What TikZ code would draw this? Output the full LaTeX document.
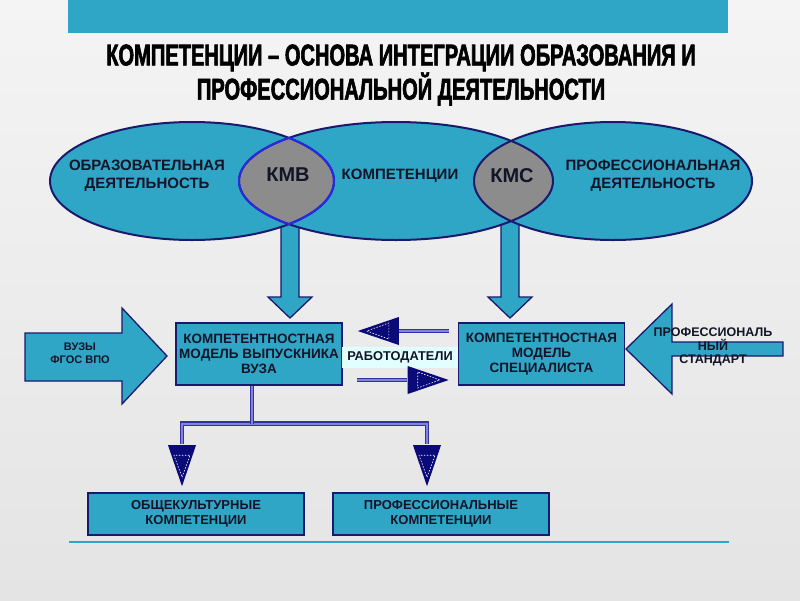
\documentclass[tikz,border=0pt]{standalone}
\usepackage{fontspec}
\setmainfont{Liberation Sans}
\newfontfamily\titlefont{Liberation Sans}[FakeStretch=0.67,FakeBold=2]
\usetikzlibrary{calc}

\definecolor{panelblue}{RGB}{48,166,198}
\definecolor{boxnavy}{RGB}{25,25,110}
\definecolor{lensblue}{RGB}{40,40,230}
\definecolor{lensgrey}{RGB}{140,140,140}
\definecolor{headnavy}{RGB}{10,10,120}
\definecolor{linenavy}{RGB}{50,50,160}
\definecolor{linefill}{RGB}{130,130,215}
\definecolor{textdark}{RGB}{20,20,40}
\definecolor{labelbg}{RGB}{225,255,255}
\definecolor{bgtop}{RGB}{244,244,244}
\definecolor{bgbottom}{RGB}{228,228,228}

\begin{document}
\begin{tikzpicture}[x=1pt,y=-1pt,
  modelbox/.style={draw=boxnavy,line width=1.6pt,fill=panelblue,minimum width=166pt,minimum height=62pt,
    align=center,inner sep=0pt,text=textdark,font=\fontsize{13.5pt}{15pt}\selectfont\bfseries},
  kindbox/.style={modelbox,minimum width=216pt,minimum height=42pt,font=\fontsize{13pt}{15pt}\selectfont\bfseries},
  ovaltext/.style={align=center,inner sep=0pt,text=textdark,font=\fontsize{15pt}{18pt}\selectfont\bfseries},
  lenstext/.style={inner sep=0pt,text=textdark,font=\fontsize{20pt}{22pt}\selectfont\bfseries},
  blockarrow/.style={draw=boxnavy,line width=1.3pt,fill=panelblue,line join=miter},
  dline/.style={draw=linenavy,double=linefill,double distance=2.4pt,line width=1.2pt},
  navyhead/.pic={
    \fill[headnavy] (0,0) -- (-41,-14) -- (-41,14) -- cycle;
    \draw[white,line width=0.6pt,dash pattern=on 1.5pt off 1.5pt] (-9,0) -- (-31,-8) -- (-31,8) -- cycle;}]
  \useasboundingbox (0,0) rectangle (800,600);
  \shade[top color=bgtop,bottom color=bgbottom] (0,0) rectangle (800,600);
  \fill[panelblue] (68,0) rectangle (728,33);
  \draw[panelblue,line width=2.5pt] (69,542) -- (729,542);

  \node[align=center,inner sep=0pt,font=\titlefont\fontsize{30pt}{27pt}\selectfont\bfseries] (title) at (401,75)
    {КОМПЕТЕНЦИИ – ОСНОВА ИНТЕГРАЦИИ ОБРАЗОВАНИЯ И\\ПРОФЕССИОНАЛЬНОЙ ДЕЯТЕЛЬНОСТИ};

  \draw[blockarrow] (281,215) -- (299,215) -- (299,297) -- (312,297) -- (290,318) -- (268,297) -- (281,297) -- cycle;
  \draw[blockarrow] (501,215) -- (519,215) -- (519,297) -- (532,297) -- (510,318) -- (488,297) -- (501,297) -- cycle;

  \fill[panelblue] (192,181) ellipse [x radius=142,y radius=59];
  \fill[panelblue] (396,181) ellipse [x radius=157,y radius=59];
  \fill[panelblue] (613,181) ellipse [x radius=139,y radius=59];
  \begin{scope}
    \clip (192,181) ellipse [x radius=142,y radius=59];
    \fill[lensgrey] (396,181) ellipse [x radius=157,y radius=59];
  \end{scope}
  \begin{scope}
    \clip (613,181) ellipse [x radius=139,y radius=59];
    \fill[lensgrey] (396,181) ellipse [x radius=157,y radius=59];
  \end{scope}
  \draw[boxnavy,line width=2pt] (192,181) ellipse [x radius=142,y radius=59];
  \draw[boxnavy,line width=2pt] (396,181) ellipse [x radius=157,y radius=59];
  \draw[boxnavy,line width=2pt] (613,181) ellipse [x radius=139,y radius=59];
  \begin{scope}
    \clip (192,181) ellipse [x radius=143,y radius=60];
    \draw[lensblue,line width=2pt] (396,181) ellipse [x radius=157,y radius=59];
  \end{scope}
  \begin{scope}
    \clip (396,181) ellipse [x radius=158,y radius=60];
    \draw[lensblue,line width=2pt] (192,181) ellipse [x radius=142,y radius=59];
  \end{scope}

  \node[ovaltext] (edu) at (147,176) {ОБРАЗОВАТЕЛЬНАЯ\\ДЕЯТЕЛЬНОСТЬ};
  \node[lenstext] (kmv) at (288,175) {КМВ};
  \node[ovaltext] (comp) at (400,176) {КОМПЕТЕНЦИИ};
  \node[lenstext] (kms) at (512,176) {КМС};
  \node[ovaltext] (prof) at (653,176) {ПРОФЕССИОНАЛЬНАЯ\\ДЕЯТЕЛЬНОСТЬ};

  \draw[blockarrow] (25,333) -- (122,333) -- (122,308) -- (167,356) -- (122,404) -- (122,381) -- (25,381) -- cycle;
  \draw[blockarrow] (783,342) -- (672,342) -- (672,304) -- (626,349) -- (672,394) -- (672,356) -- (783,356) -- cycle;
  \node[align=center,inner sep=0pt,text=textdark,font=\fontsize{11pt}{13pt}\selectfont\bfseries] (vuz) at (80,353)
    {ВУЗЫ\\ФГОС ВПО};
  \node[align=center,inner sep=0pt,text=textdark,font=\fontsize{12.5pt}{13.5pt}\selectfont\bfseries] (std) at (713,347)
    {ПРОФЕССИОНАЛЬ\\НЫЙ\\СТАНДАРТ};

  \node[modelbox] (grad) at (259,354) {КОМПЕТЕНТНОСТНАЯ\\МОДЕЛЬ ВЫПУСКНИКА\\ВУЗА};
  \node[modelbox] (spec) at (541.5,354) {КОМПЕТЕНТНОСТНАЯ\\МОДЕЛЬ\\СПЕЦИАЛИСТА};
  \node[fill=labelbg,minimum width=116pt,minimum height=21pt,inner sep=0pt,text=textdark,
    font=\fontsize{12.8pt}{14pt}\selectfont\bfseries] (employer) at (400,357.5) {РАБОТОДАТЕЛИ};

  \draw[dline] ([xshift=-9pt,yshift=23pt]spec.west) -- ([xshift=56pt,yshift=23pt]grad.east);
  \pic[rotate=180] at ([xshift=15pt,yshift=23pt]grad.east) {navyhead};
  \draw[dline] ([xshift=14pt,yshift=-26pt]grad.east) -- ([xshift=-51pt,yshift=-26pt]spec.west);
  \pic at ([xshift=-9pt,yshift=-26pt]spec.west) {navyhead};

  \node[kindbox] (oku) at (196,514) {ОБЩЕКУЛЬТУРНЫЕ\\КОМПЕТЕНЦИИ};
  \node[kindbox] (pro) at (441,514) {ПРОФЕССИОНАЛЬНЫЕ\\КОМПЕТЕНЦИИ};

  \coordinate (fork) at ([xshift=-7pt,yshift=-38pt]grad.south);
  \draw[dline] ([xshift=-14pt,yshift=48pt]oku.north) |- (fork) -| ([xshift=-14pt,yshift=48pt]pro.north);
  \draw[dline] ([xshift=-7pt]grad.south) -- (fork);
  \pic[rotate=-90] at ([xshift=-14pt,yshift=6pt]oku.north) {navyhead};
  \pic[rotate=-90] at ([xshift=-14pt,yshift=6pt]pro.north) {navyhead};
\end{tikzpicture}
\end{document}
